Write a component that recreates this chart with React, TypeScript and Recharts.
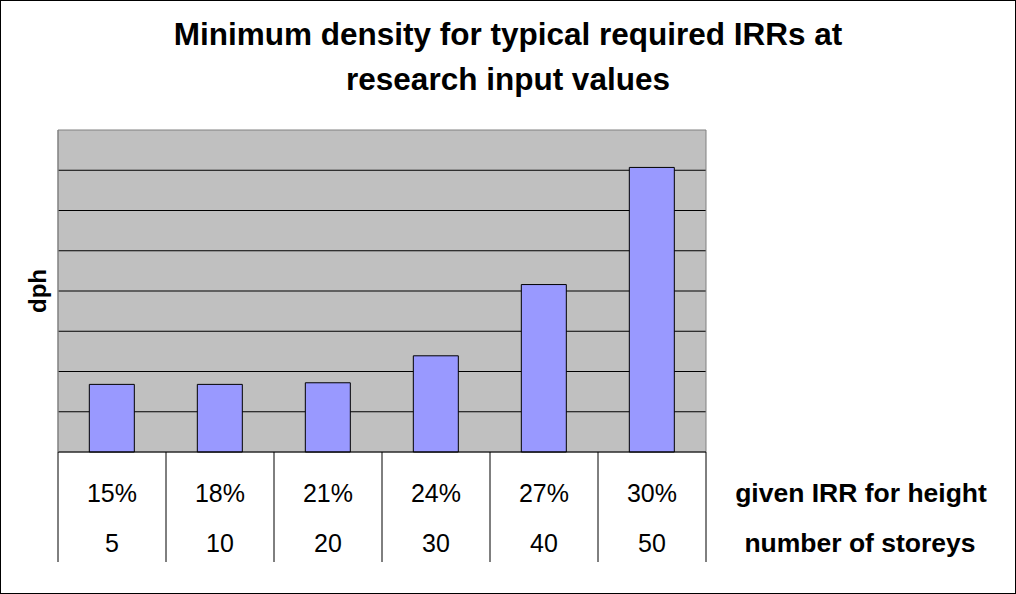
import React from 'react';
import { BarChart, Bar, XAxis, YAxis, CartesianGrid, ReferenceArea } from 'recharts';

const irrLabels = ['15%', '18%', '21%', '24%', '27%', '30%'];
const storeys = ['5', '10', '20', '30', '40', '50'];
const dphValues = [16.8, 16.8, 17.2, 23.9, 41.6, 70.7];
const gridTicks = [10, 20, 30, 40, 50, 60, 70];
const rowLabels = ['given IRR for height', 'number of storeys'];

const data = irrLabels.map((irr, i) => ({ irr, storeys: storeys[i], dph: dphValues[i] }));

const FONT = 'Arial, "Liberation Sans", sans-serif';

const TableTick = (props: any) => {
  const { x, y, payload, index } = props;
  const half = payload.offset ?? 54;
  const last = index === irrLabels.length - 1;
  const top = y - 8;
  return (
    <g>
      <line x1={x - half} y1={top} x2={x - half} y2={top + 110} stroke="#000" strokeWidth={1} />
      {last && <line x1={x + half} y1={top} x2={x + half} y2={top + 110} stroke="#000" strokeWidth={1} />}
      <text x={x} y={top + 50} textAnchor="middle" fontFamily={FONT} fontSize={25} fill="#000">
        {irrLabels[index]}
      </text>
      <text x={x} y={top + 100} textAnchor="middle" fontFamily={FONT} fontSize={25} fill="#000">
        {storeys[index]}
      </text>
      {last && (
        <>
          <text x={x + half + 155} y={top + 50} textAnchor="middle" fontFamily={FONT} fontSize={26.5} fontWeight="bold" fill="#000">
            {rowLabels[0]}
          </text>
          <text x={x + half + 154} y={top + 100} textAnchor="middle" fontFamily={FONT} fontSize={26.5} fontWeight="bold" fill="#000">
            {rowLabels[1]}
          </text>
        </>
      )}
    </g>
  );
};

export default function App() {
  return (
    <div style={{ position: 'absolute', left: 0, top: 0, width: 1016, height: 594, background: '#fff' }}>
      <div style={{ position: 'absolute', left: 0, top: 0, width: 1014, height: 592, border: '1px solid #000' }} />
      <div
        style={{
          position: 'absolute',
          left: 0,
          top: 12,
          width: 1016,
          textAlign: 'center',
          fontFamily: FONT,
          fontWeight: 'bold',
          fontSize: 31.5,
          lineHeight: '45px',
          color: '#000',
        }}
      >
        Minimum density for typical required IRRs at
        <br />
        research input values
      </div>
      <BarChart
        width={1016}
        height={594}
        data={data}
        margin={{ top: 130, right: 310, bottom: 32, left: 0 }}
        barCategoryGap="29%"
      >
        <CartesianGrid vertical={false} stroke="#000" fill="#C0C0C0" fillOpacity={1} horizontalValues={gridTicks} />
        <ReferenceArea y1={0} y2={80} fill="none" stroke="#808080" strokeWidth={1} ifOverflow="extendDomain" />
        <XAxis
          dataKey="irr"
          height={110}
          axisLine={{ stroke: '#000' }}
          tickLine={false}
          interval={0}
          tick={<TableTick />}
        />
        <YAxis
          width={58}
          domain={[0, 80]}
          ticks={gridTicks}
          tick={() => null}
          tickLine={false}
          axisLine={{ stroke: '#808080' }}
          label={{
            value: 'dph',
            angle: -90,
            position: 'center',
            dx: 8,
            style: { fontFamily: FONT, fontWeight: 'bold', fontSize: 24, fill: '#000' },
          }}
        />
        <Bar dataKey="dph" fill="#9999FF" stroke="#000" strokeWidth={1} isAnimationActive={false} />
      </BarChart>
    </div>
  );
}
